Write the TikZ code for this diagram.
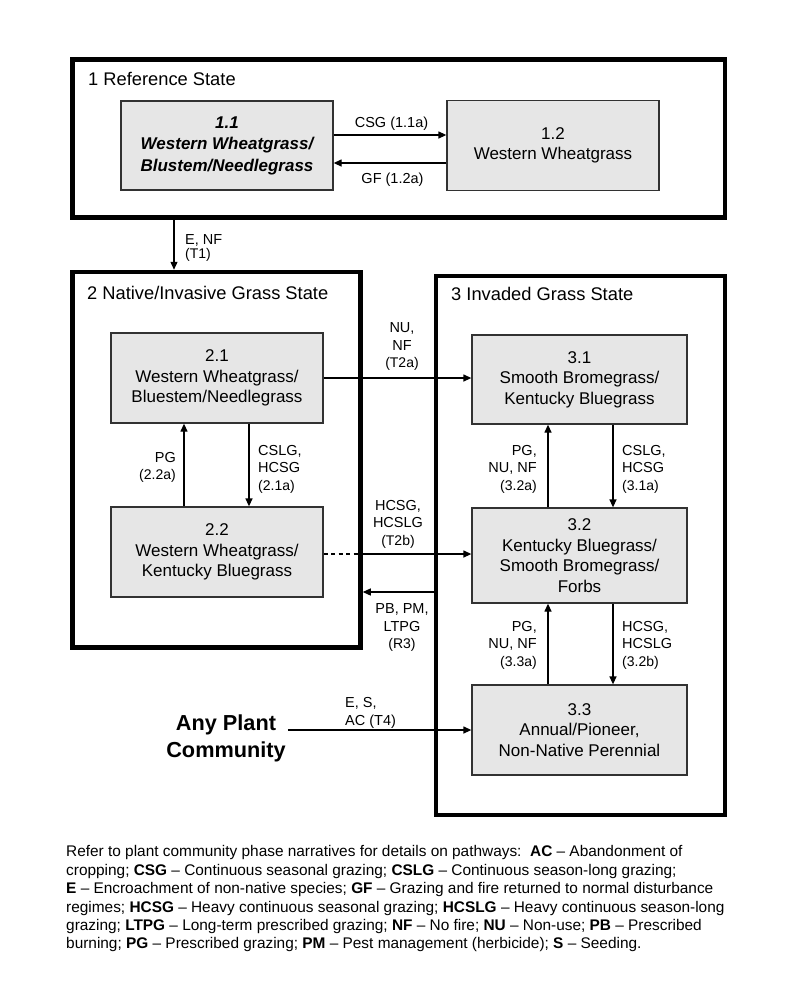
\documentclass[tikz,border=0pt]{standalone}
\usepackage{fontspec}
\setmainfont{Liberation Sans}
\usetikzlibrary{arrows.meta}
\definecolor{boxfill}{RGB}{230,230,230}
\definecolor{boxline}{RGB}{50,50,50}
\newcommand{\pfont}{\fontsize{14}{17.5}\selectfont}
\begin{document}
\begin{tikzpicture}[x=1pt,y=-1pt,
  stateframe/.style={draw=black, line width=4.5pt, inner sep=0pt},
  phase/.style={draw=boxline, fill=boxfill, line width=1.3pt, inner sep=0pt, align=center,
    minimum width=212pt, minimum height=90pt, font=\fontsize{17}{20.5}\selectfont},
  conn/.style={line width=1.3pt, -{Triangle[length=8pt,width=7pt]}},
  lbl/.style={inner sep=0pt, font=\fontsize{14.5}{17.5}\selectfont},
  statetitle/.style={inner sep=0pt, anchor=base west, font=\fontsize{18.3}{22}\selectfont}]
\useasboundingbox[fill=white] (0,0) rectangle (800,1005);

% state frames
\node[stateframe, minimum width=652.5pt, minimum height=158pt] (s1) at (398.75,138.5) {};
\node[stateframe, minimum width=288pt, minimum height=375.5pt] (s2) at (216.5,459.75) {};
\node[stateframe, minimum width=289pt, minimum height=539pt] (s3) at (580.5,545.5) {};
\node[statetitle] (t1) at (88,85.4) {1 Reference State};
\node[statetitle] (t2) at (87,299.7) {2 Native/Invasive Grass State};
\node[statetitle] (t3) at (451,300.5) {3 Invaded Grass State};

% community phases
\node[phase, minimum height=89pt, font=\fontsize{17}{21.5}\selectfont\bfseries\itshape] (b11) at (227,145.5)
  {1.1\\Western Wheatgrass/\\Blustem/Needlegrass};
\node[phase] (b12) at (553,145.5) {1.2\\Western Wheatgrass};
\node[phase] (b21) at (217,378) {2.1\\Western Wheatgrass/\\Bluestem/Needlegrass};
\node[phase] (b22) at (217,552) {2.2\\Western Wheatgrass/\\Kentucky Bluegrass};
\node[phase, minimum width=215pt, minimum height=89pt] (b31) at (579.5,379.5) {3.1\\Smooth Bromegrass/\\Kentucky Bluegrass};
\node[phase, minimum width=215pt, minimum height=95pt] (b32) at (579.5,555.5) {3.2\\Kentucky Bluegrass/\\Smooth Bromegrass/\\Forbs};
\node[phase, minimum width=215pt] (b33) at (579.5,730) {3.3\\Annual/Pioneer,\\Non-Native Perennial};

\node[inner sep=2pt, align=center, font=\fontsize{21.7}{27}\selectfont\bfseries] (apc) at (226,738.5) {Any Plant\\Community};

% levels
\coordinate (yCSG) at (0,135);
\coordinate (yGF) at (0,163);
\coordinate (xT1) at (174,0);
\coordinate (xL2) at (184,0);
\coordinate (xR2) at (249,0);
\coordinate (yT2a) at (0,378);
\coordinate (yT2b) at (0,554);
\coordinate (yR3) at (0,592);
\coordinate (xL3) at (548,0);
\coordinate (xR3) at (613,0);

% connectors
\draw[conn] (b11.east |- yCSG) -- (b12.west |- yCSG);
\draw[conn] (b12.west |- yGF) -- (b11.east |- yGF);
\draw[conn] (s1.south -| xT1) -- (s2.north -| xT1);
\draw[conn] (b22.north -| xL2) -- (b21.south -| xL2);
\draw[conn] (b21.south -| xR2) -- (b22.north -| xR2);
\draw[conn] (b21.east |- yT2a) -- (b31.west |- yT2a);
\draw[line width=1.3pt, dash pattern=on 4pt off 3.5pt] (b22.east |- yT2b) -- (s2.east |- yT2b);
\draw[conn] (s2.east |- yT2b) -- (b32.west |- yT2b);
\draw[conn] (s3.west |- yR3) -- (s2.east |- yR3);
\draw[conn] (b32.north -| xL3) -- (b31.south -| xL3);
\draw[conn] (b31.south -| xR3) -- (b32.north -| xR3);
\draw[conn] (b33.north -| xL3) -- (b32.south -| xL3);
\draw[conn] (b32.south -| xR3) -- (b33.north -| xR3);
\draw[conn] (apc.east |- b33.west) -- (b33.west);

% connector labels
\node[lbl, anchor=base] (lCSG) at (391.5,127) {CSG (1.1a)};
\node[lbl, anchor=base] (lGF) at (392.5,183.2) {GF (1.2a)};
\node[lbl, anchor=north west, align=left, font=\fontsize{14.5}{14}\selectfont] (lT1) at (185,234.8) {E, NF\\{\pfont(T1)}};
\node[lbl, anchor=north east, align=right] (lPG) at (176,451.8) {PG\\{\pfont(2.2a)}};
\node[lbl, anchor=north west, align=left] (l21a) at (258,444.8) {CSLG,\\HCSG\\{\pfont(2.1a)}};
\node[lbl, anchor=north, align=center] (lT2a) at (402,322.8) {NU,\\NF\\{\pfont(T2a)}};
\node[lbl, anchor=north, align=center] (lT2b) at (398,499.8) {HCSG,\\HCSLG\\{\pfont(T2b)}};
\node[lbl, anchor=north, align=center] (lR3) at (402,603.8) {PB, PM,\\LTPG\\{\pfont(R3)}};
\node[lbl, anchor=north east, align=right] (l32a) at (537,444.8) {PG,\\NU, NF\\{\pfont(3.2a)}};
\node[lbl, anchor=north west, align=left] (l31a) at (622,444.8) {CSLG,\\HCSG\\{\pfont(3.1a)}};
\node[lbl, anchor=north east, align=right] (l33a) at (537,620.8) {PG,\\NU, NF\\{\pfont(3.3a)}};
\node[lbl, anchor=north west, align=left] (l32b) at (622,620.8) {HCSG,\\HCSLG\\{\pfont(3.2b)}};
\node[lbl, anchor=north west, align=left, font=\fontsize{14.5}{18.5}\selectfont] (lT4) at (345,696.8) {E, S,\\AC (T4)};

% legend
\node[inner sep=0pt, anchor=north west, align=left, font=\fontsize{15.4}{18.4}\selectfont] (legend) at (66,845.5)
{Refer to plant community phase narratives for details on pathways:\ \ \textbf{AC} – Abandonment of\\
cropping; \textbf{CSG} – Continuous seasonal grazing; \textbf{CSLG} – Continuous season-long grazing;\\
\textbf{E} – Encroachment of non-native species; \textbf{GF} – Grazing and fire returned to normal disturbance\\
regimes; \textbf{HCSG} – Heavy continuous seasonal grazing; \textbf{HCSLG} – Heavy continuous season-long\\
grazing; \textbf{LTPG} – Long-term prescribed grazing; \textbf{NF} – No fire; \textbf{NU} – Non-use; \textbf{PB} – Prescribed\\
burning; \textbf{PG} – Prescribed grazing; \textbf{PM} – Pest management (herbicide); \textbf{S} – Seeding.};
\end{tikzpicture}
\end{document}
